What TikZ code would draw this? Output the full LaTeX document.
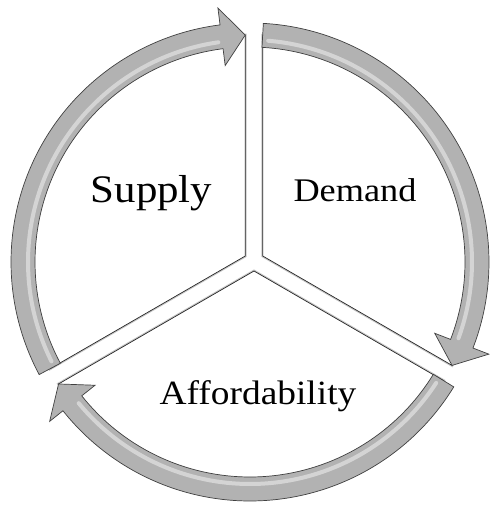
\documentclass[tikz,border=0pt]{standalone}
\usepackage{fontspec}
\setmainfont[FakeStretch=1.1]{Liberation Serif}
\usetikzlibrary{calc}

\begin{document}
\begin{tikzpicture}[x=1pt, y=1pt,
        sector/.style={draw=black!85, line width=0.7pt, fill=white, preaction={draw=black!22, line width=2.8pt}},
        band/.style={draw=black!75, line width=0.7pt, fill=black!30},
        shine/.style={white, line width=4pt, opacity=0.45, line cap=round},
        word/.style={anchor=base, inner sep=0pt}
    ]
        \useasboundingbox[fill=white] (0,0) rectangle (490,507);

        \begin{scope}[shift={(250,245)}]
            % three wedges, split by white gaps
            \draw[sector] (-4.7,6) -- (91.2:227) arc[start angle=91.2, end angle=208.1, radius=227] -- cycle;
            \draw[sector] (12.7,6) -- (86.8:227) arc[start angle=86.8, end angle=-27.1, radius=227] -- cycle;
            \draw[sector] (4,-9) -- (-31.5:227) arc[start angle=-31.5, end angle=-147.5, radius=227] -- cycle;

            % curved arrows round the rim (tail angle / tip angle)
            \foreach \a/\b in {208.1/91.2, 86.8/-27.1, -31.5/-147.5} {
                \pgfmathsetmacro{\c}{\b+6}
                \draw[band] (\a:239) arc[start angle=\a, end angle=\c, radius=239]
                    -- (\c:256) -- (\b:227) -- (\c:198) -- (\c:215)
                    arc[start angle=\c, end angle=\a, radius=215] -- cycle;
                \draw[shine] (\a-1.5:222) arc[start angle=\a-1.5, end angle=\c+1, radius=222];
            }
        \end{scope}

        \node[word, font=\fontsize{39}{39}\selectfont] (supply) at (151.5,304) {Supply};
        \node[word, font=\fontsize{33}{33}\selectfont] (demand) at (355,305) {Demand};
        \node[word, font=\fontsize{34}{34}\selectfont] (afford) at (258,102) {Affordability};
    \end{tikzpicture}
\end{document}
